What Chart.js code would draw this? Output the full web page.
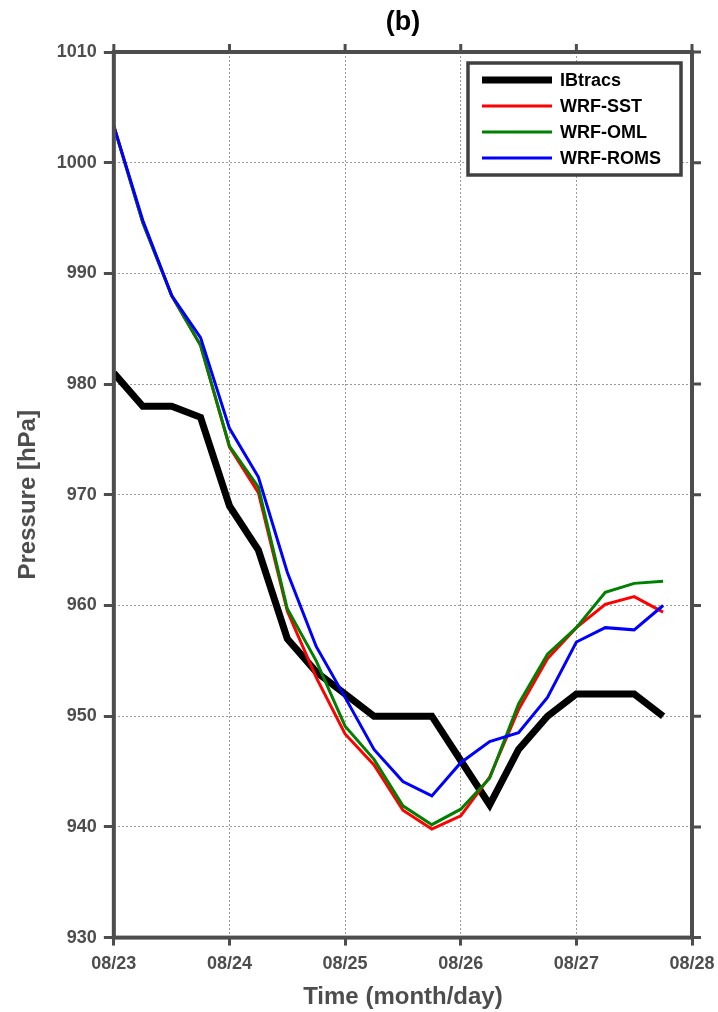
<!DOCTYPE html>
<html lang="en">
<head>
    <meta charset="UTF-8">
    <title>(b) Pressure</title>
    <script src="https://cdn.jsdelivr.net/npm/chart.js"></script>
    <style>
        body { margin: 0; background: #fff; }
        .chart-box { width: 718px; height: 1012px; }
    </style>
</head>
<body>
    <div class="chart-box">
        <canvas id="pressureChart" width="718" height="1012"></canvas>
    </div>

    <script>
        // hours since 08/23 00:00 (6-hourly)
        const hours = [0, 6, 12, 18, 24, 30, 36, 42, 48, 54, 60, 66, 72, 78, 84, 90, 96, 102, 108, 114];
        const tickLabels = ['08/23', '08/24', '08/25', '08/26', '08/27', '08/28'];

        const ibtracs = [981, 978, 978, 977, 969, 965, 957, 954, 952, 950, 950, 950, 946, 942, 947, 950, 952, 952, 952, 950];
        const wrfSst  = [1003.3, 994.6, 988.0, 983.5, 974.3, 970.2, 959.5, 953.5, 948.4, 945.6, 941.5, 939.8, 941.0, 944.5, 950.6, 955.2, 958.0, 960.1, 960.8, 959.4];
        const wrfOml  = [1003.3, 994.6, 988.0, 983.5, 974.4, 970.7, 959.7, 955.0, 949.1, 946.1, 941.9, 940.2, 941.6, 944.4, 951.1, 955.6, 958.0, 961.2, 962.0, 962.2];
        const wrfRoms = [1003.3, 994.8, 988.0, 984.2, 976.0, 971.6, 963.0, 956.3, 951.7, 947.0, 944.1, 942.8, 945.8, 947.7, 948.5, 951.7, 956.7, 958.0, 957.8, 960.0];

        const axisColor = '#4d4d4d';
        const fontFamily = "'Liberation Sans', Arial, Helvetica, sans-serif";

        const toPoints = vals => vals.map((v, i) => ({ x: hours[i] / 24, y: v }));

        // box frame, top/right ticks and legend inside the plot
        const frameAndLegend = {
            id: 'frameAndLegend',
            afterDraw(chart) {
                const { ctx, chartArea: a, scales: { x, y } } = chart;
                ctx.save();
                ctx.strokeStyle = axisColor;
                ctx.lineWidth = 3;
                ctx.beginPath();
                x.ticks.forEach(t => {
                    const px = x.getPixelForValue(t.value);
                    ctx.moveTo(px, a.top);
                    ctx.lineTo(px, a.top - 8);
                });
                y.ticks.forEach(t => {
                    const py = y.getPixelForValue(t.value);
                    ctx.moveTo(a.right, py);
                    ctx.lineTo(a.right + 9, py);
                });
                ctx.stroke();
                ctx.lineWidth = 4;
                ctx.strokeRect(a.left, a.top, a.right - a.left, a.bottom - a.top);

                // legend
                const bx = a.right - 224, by = a.top + 11, bw = 213, bh = 112;
                ctx.fillStyle = '#fff';
                ctx.fillRect(bx, by, bw, bh);
                ctx.strokeStyle = '#404040';
                ctx.lineWidth = 3.5;
                ctx.strokeRect(bx, by, bw, bh);
                ctx.font = 'bold 18px ' + fontFamily;
                ctx.textBaseline = 'middle';
                chart.data.datasets.forEach((ds, i) => {
                    const ry = by + 17 + i * 26;
                    ctx.strokeStyle = ds.borderColor;
                    ctx.lineWidth = ds.borderWidth;
                    ctx.beginPath();
                    ctx.moveTo(bx + 14, ry);
                    ctx.lineTo(bx + 84, ry);
                    ctx.stroke();
                    ctx.fillStyle = '#000';
                    ctx.fillText(ds.label, bx + 92, ry + 1);
                });
                ctx.restore();
            }
        };

        const ctx = document.getElementById('pressureChart').getContext('2d');
        new Chart(ctx, {
            type: 'line',
            data: {
                datasets: [
                    { label: 'IBtracs',  data: toPoints(ibtracs), borderColor: '#000000', borderWidth: 7, order: 4 },
                    { label: 'WRF-SST',  data: toPoints(wrfSst),  borderColor: '#ff0000', borderWidth: 3, order: 3 },
                    { label: 'WRF-OML',  data: toPoints(wrfOml),  borderColor: '#008000', borderWidth: 3, order: 2 },
                    { label: 'WRF-ROMS', data: toPoints(wrfRoms), borderColor: '#0000ff', borderWidth: 3, order: 1 }
                ]
            },
            options: {
                responsive: false,
                animation: false,
                layout: { padding: { top: 0, left: 0, right: 26, bottom: 0 } },
                elements: {
                    point: { radius: 0 },
                    line: { tension: 0, fill: false }
                },
                plugins: {
                    legend: { display: false },
                    tooltip: { enabled: false },
                    title: {
                        display: true,
                        text: '(b)',
                        fullSize: false,
                        color: '#000',
                        font: { family: fontFamily, size: 27, weight: 'bold' },
                        padding: { top: 6, bottom: 13.6 }
                    }
                },
                scales: {
                    x: {
                        type: 'linear',
                        min: 0,
                        max: 5,
                        // let the last label hang into the right margin
                        afterFit: scale => { scale.paddingRight = 20; },
                        ticks: {
                            stepSize: 1,
                            color: axisColor,
                            padding: 8,
                            maxRotation: 0,
                            font: { family: fontFamily, size: 18, weight: 'bold' },
                            callback: v => tickLabels[v]
                        },
                        grid: {
                            color: '#9a9a9a',
                            lineWidth: 1,
                            tickColor: axisColor,
                            tickWidth: 3,
                            tickLength: 8
                        },
                        border: { display: false, dash: [2, 2] },
                        title: {
                            display: true,
                            text: 'Time (month/day)',
                            color: axisColor,
                            font: { family: fontFamily, size: 24, weight: 'bold' },
                            padding: { top: 0, bottom: 0 }
                        }
                    },
                    y: {
                        min: 930,
                        max: 1010,
                        ticks: {
                            stepSize: 10,
                            color: axisColor,
                            padding: 7,
                            font: { family: fontFamily, size: 18, weight: 'bold' },
                            callback: v => String(v)
                        },
                        grid: {
                            color: '#9a9a9a',
                            lineWidth: 1,
                            tickColor: axisColor,
                            tickWidth: 3,
                            tickLength: 10
                        },
                        border: { display: false, dash: [2, 2] },
                        title: {
                            display: true,
                            text: 'Pressure [hPa]',
                            color: axisColor,
                            font: { family: fontFamily, size: 24, weight: 'bold' },
                            padding: { top: 14, bottom: 7 }
                        }
                    }
                }
            },
            plugins: [frameAndLegend]
        });
    </script>
</body>
</html>
